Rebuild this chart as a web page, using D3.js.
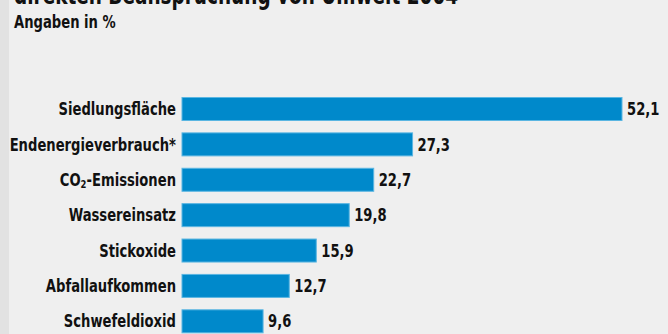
<!DOCTYPE html>
<html>
<head>
<meta charset="utf-8">
<script src="https://cdn.jsdelivr.net/npm/d3@7"></script>
<style>
  body { margin: 0; background: #efefef; }
  svg { display: block; }
  text { font-family: "Liberation Sans Narrow", "DejaVu Sans Condensed", sans-serif; font-weight: bold; fill: #111; }
</style>
</head>
<body>
<svg id="chart" width="668" height="334"></svg>
<script>
// -- chart data -- //
let categories = ["Siedlungsfläche", "Endenergieverbrauch*", "CO2-Emissionen", "Wassereinsatz",
                  "Stickoxide", "Abfallaufkommen", "Schwefeldioxid"];
let values = [52.1, 27.3, 22.7, 19.8, 15.9, 12.7, 9.6];
let valueLabels = ["52,1", "27,3", "22,7", "19,8", "15,9", "12,7", "9,6"];

let svg = d3.select("#chart");
let width = 668, height = 334;
let squeeze = 0.86; // horizontal condensing of the font

// -- background + left strip -- //
svg.append("rect").attr("width", width).attr("height", height).style("fill", "#efefef");
svg.append("rect").attr("width", 9).attr("height", height).style("fill", "#e2e2e2");

// -- title (cut off at top) and subtitle -- //
svg.append("text")
    .attr("transform", `translate(14, 4) scale(0.79, 1)`)
    .style("font-size", "26px")
    .text("direkten Beanspruchung von Umwelt 2004");
svg.append("text")
    .attr("transform", `translate(14, 28) scale(${squeeze}, 1)`)
    .style("font-size", "17px")
    .text("Angaben in %");

// -- scales -- //
let x0 = 182;
let xScale = d3.scaleLinear().domain([0, 52.1]).range([x0, 622]);
let yScale = d3.scaleBand().domain(categories).range([91.3, 339]).paddingInner(0.35).paddingOuter(0.175);

let rows = svg.selectAll(".row")
    .data(categories)
    .enter()
    .append("g")
    .attr("class", "row");

// -- bars -- //
rows.append("rect")
    .attr("x", xScale(0))
    .attr("y", d => yScale(d))
    .attr("width", (d, i) => xScale(values[i]) - xScale(0))
    .attr("height", yScale.bandwidth())
    .style("fill", "#0089cb")
    .style("stroke", "#5bb6e2")
    .style("stroke-width", 1);

// -- category labels -- //
let labels = rows.append("text")
    .attr("transform", d => `translate(176, ${yScale(d) + yScale.bandwidth() / 2}) scale(${squeeze}, 1)`)
    .attr("dy", "0.36em")
    .attr("text-anchor", "end")
    .style("font-size", "17px");

labels.each(function (d) {
    let t = d3.select(this);
    if (d === "CO2-Emissionen") {
        t.append("tspan").text("CO");
        t.append("tspan").text("2").attr("baseline-shift", "-25%").style("font-size", "11px");
        t.append("tspan").text("-Emissionen");
    } else {
        t.text(d);
    }
});

// -- value labels -- //
rows.append("text")
    .attr("transform", (d, i) => `translate(${xScale(values[i]) + 5}, ${yScale(d) + yScale.bandwidth() / 2}) scale(${squeeze}, 1)`)
    .attr("dy", "0.36em")
    .style("font-size", "17px")
    .text((d, i) => valueLabels[i]);
</script>
</body>
</html>
